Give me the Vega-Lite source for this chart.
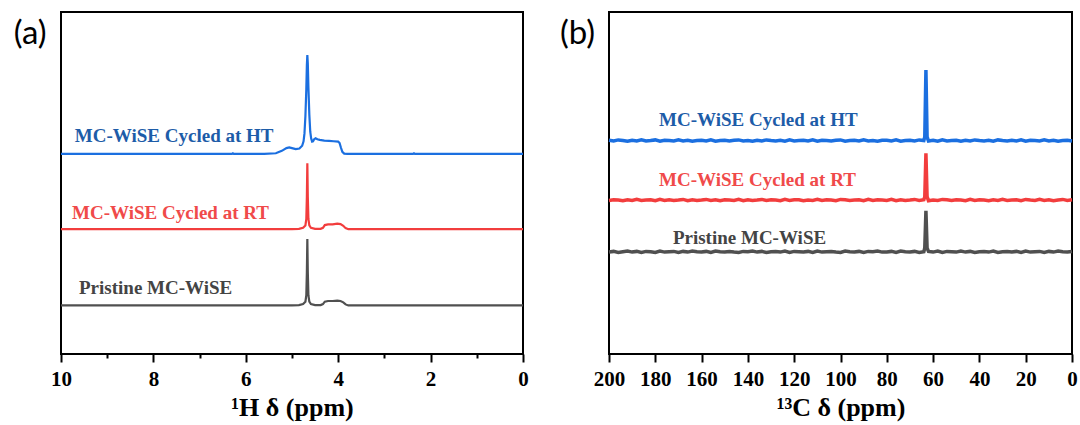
{
  "$schema": "https://vega.github.io/schema/vega-lite/v6.json",
  "background": "white",
  "padding": {"left": 12, "top": 11, "right": 4, "bottom": 4},
  "config": {
    "view": {"stroke": "black", "strokeWidth": 2},
    "axis": {"grid": false},
    "title": {"font": "Lato", "fontSize": 33, "fontWeight": "normal", "color": "black"}
  },
  "datasets": {
    "h1": [
      {"s": "HT", "ppm": 10, "v": 58.5}, {"s": "HT", "ppm": 8, "v": 58.5}, {"s": "HT", "ppm": 6.3, "v": 58.5},
      {"s": "HT", "ppm": 6.28, "v": 58.7}, {"s": "HT", "ppm": 6.26, "v": 58.5}, {"s": "HT", "ppm": 5.6, "v": 58.5},
      {"s": "HT", "ppm": 5.35, "v": 58.7}, {"s": "HT", "ppm": 5.22, "v": 59.4}, {"s": "HT", "ppm": 5.12, "v": 60.2},
      {"s": "HT", "ppm": 5.06, "v": 60.4}, {"s": "HT", "ppm": 5.0, "v": 60.2}, {"s": "HT", "ppm": 4.92, "v": 59.9},
      {"s": "HT", "ppm": 4.84, "v": 60.1}, {"s": "HT", "ppm": 4.78, "v": 60.9}, {"s": "HT", "ppm": 4.75, "v": 62.2},
      {"s": "HT", "ppm": 4.73, "v": 64.5}, {"s": "HT", "ppm": 4.71, "v": 69.5}, {"s": "HT", "ppm": 4.69, "v": 77.5},
      {"s": "HT", "ppm": 4.678, "v": 84.5}, {"s": "HT", "ppm": 4.668, "v": 87.4}, {"s": "HT", "ppm": 4.658, "v": 85.0},
      {"s": "HT", "ppm": 4.645, "v": 78.0}, {"s": "HT", "ppm": 4.625, "v": 70.0}, {"s": "HT", "ppm": 4.605, "v": 65.0},
      {"s": "HT", "ppm": 4.585, "v": 63.0}, {"s": "HT", "ppm": 4.565, "v": 62.1}, {"s": "HT", "ppm": 4.545, "v": 62.2},
      {"s": "HT", "ppm": 4.52, "v": 62.8}, {"s": "HT", "ppm": 4.49, "v": 63.1}, {"s": "HT", "ppm": 4.45, "v": 62.8},
      {"s": "HT", "ppm": 4.4, "v": 62.6}, {"s": "HT", "ppm": 4.3, "v": 62.4}, {"s": "HT", "ppm": 4.2, "v": 62.3},
      {"s": "HT", "ppm": 4.1, "v": 62.2}, {"s": "HT", "ppm": 4.0, "v": 62.1}, {"s": "HT", "ppm": 3.97, "v": 61.7},
      {"s": "HT", "ppm": 3.94, "v": 60.3}, {"s": "HT", "ppm": 3.91, "v": 59.1}, {"s": "HT", "ppm": 3.87, "v": 58.6},
      {"s": "HT", "ppm": 3.8, "v": 58.5}, {"s": "HT", "ppm": 2.38, "v": 58.5}, {"s": "HT", "ppm": 2.36, "v": 58.7},
      {"s": "HT", "ppm": 2.34, "v": 58.5}, {"s": "HT", "ppm": 0, "v": 58.5},

      {"s": "RT", "ppm": 10, "v": 36.5}, {"s": "RT", "ppm": 5.0, "v": 36.5}, {"s": "RT", "ppm": 4.85, "v": 36.6},
      {"s": "RT", "ppm": 4.76, "v": 36.9}, {"s": "RT", "ppm": 4.71, "v": 37.6}, {"s": "RT", "ppm": 4.69, "v": 39.5},
      {"s": "RT", "ppm": 4.678, "v": 46.0}, {"s": "RT", "ppm": 4.668, "v": 55.8}, {"s": "RT", "ppm": 4.658, "v": 46.0},
      {"s": "RT", "ppm": 4.645, "v": 39.5}, {"s": "RT", "ppm": 4.625, "v": 37.6}, {"s": "RT", "ppm": 4.59, "v": 36.9},
      {"s": "RT", "ppm": 4.5, "v": 36.6}, {"s": "RT", "ppm": 4.38, "v": 36.6}, {"s": "RT", "ppm": 4.33, "v": 36.9},
      {"s": "RT", "ppm": 4.29, "v": 37.7}, {"s": "RT", "ppm": 4.22, "v": 37.9}, {"s": "RT", "ppm": 4.12, "v": 37.9},
      {"s": "RT", "ppm": 4.02, "v": 38.1}, {"s": "RT", "ppm": 3.95, "v": 38.0}, {"s": "RT", "ppm": 3.89, "v": 37.5},
      {"s": "RT", "ppm": 3.84, "v": 36.8}, {"s": "RT", "ppm": 3.78, "v": 36.5}, {"s": "RT", "ppm": 0, "v": 36.5},

      {"s": "Pristine", "ppm": 10, "v": 14.2}, {"s": "Pristine", "ppm": 5.8, "v": 14.2}, {"s": "Pristine", "ppm": 5.0, "v": 14.2},
      {"s": "Pristine", "ppm": 4.85, "v": 14.3}, {"s": "Pristine", "ppm": 4.76, "v": 14.6}, {"s": "Pristine", "ppm": 4.71, "v": 15.3},
      {"s": "Pristine", "ppm": 4.69, "v": 17.2}, {"s": "Pristine", "ppm": 4.678, "v": 24.0}, {"s": "Pristine", "ppm": 4.668, "v": 33.6},
      {"s": "Pristine", "ppm": 4.658, "v": 24.0}, {"s": "Pristine", "ppm": 4.645, "v": 17.2}, {"s": "Pristine", "ppm": 4.625, "v": 15.3},
      {"s": "Pristine", "ppm": 4.59, "v": 14.6}, {"s": "Pristine", "ppm": 4.5, "v": 14.3}, {"s": "Pristine", "ppm": 4.38, "v": 14.3},
      {"s": "Pristine", "ppm": 4.33, "v": 14.6}, {"s": "Pristine", "ppm": 4.29, "v": 15.3}, {"s": "Pristine", "ppm": 4.22, "v": 15.5},
      {"s": "Pristine", "ppm": 4.12, "v": 15.5}, {"s": "Pristine", "ppm": 4.02, "v": 15.6}, {"s": "Pristine", "ppm": 3.95, "v": 15.5},
      {"s": "Pristine", "ppm": 3.89, "v": 15.1}, {"s": "Pristine", "ppm": 3.84, "v": 14.5}, {"s": "Pristine", "ppm": 3.78, "v": 14.2},
      {"s": "Pristine", "ppm": 0, "v": 14.2}
    ],
    "c13": [
      {"s":"HT","ppm":200,"v":62.5},{"s":"HT","ppm":198,"v":62.3},{"s":"HT","ppm":196,"v":62.6},{"s":"HT","ppm":194,"v":62.4},
      {"s":"HT","ppm":192,"v":62.2},{"s":"HT","ppm":190,"v":62.5},{"s":"HT","ppm":188,"v":62.3},{"s":"HT","ppm":186,"v":62.6},
      {"s":"HT","ppm":184,"v":62.3},{"s":"HT","ppm":182,"v":62.4},{"s":"HT","ppm":180,"v":62.6},{"s":"HT","ppm":178,"v":62.2},
      {"s":"HT","ppm":176,"v":62.5},{"s":"HT","ppm":174,"v":62.4},{"s":"HT","ppm":172,"v":62.3},{"s":"HT","ppm":170,"v":62.6},
      {"s":"HT","ppm":168,"v":62.3},{"s":"HT","ppm":166,"v":62.5},{"s":"HT","ppm":164,"v":62.2},{"s":"HT","ppm":162,"v":62.4},
      {"s":"HT","ppm":160,"v":62.5},{"s":"HT","ppm":158,"v":62.3},{"s":"HT","ppm":156,"v":62.6},{"s":"HT","ppm":154,"v":62.2},
      {"s":"HT","ppm":152,"v":62.4},{"s":"HT","ppm":150,"v":62.5},{"s":"HT","ppm":148,"v":62.3},{"s":"HT","ppm":146,"v":62.5},
      {"s":"HT","ppm":144,"v":62.6},{"s":"HT","ppm":142,"v":62.3},{"s":"HT","ppm":140,"v":62.4},{"s":"HT","ppm":138,"v":62.2},
      {"s":"HT","ppm":136,"v":62.5},{"s":"HT","ppm":134,"v":62.3},{"s":"HT","ppm":132,"v":62.6},{"s":"HT","ppm":130,"v":62.4},
      {"s":"HT","ppm":128,"v":62.3},{"s":"HT","ppm":126,"v":62.5},{"s":"HT","ppm":124,"v":62.2},{"s":"HT","ppm":122,"v":62.6},
      {"s":"HT","ppm":120,"v":62.3},{"s":"HT","ppm":118,"v":62.4},{"s":"HT","ppm":116,"v":62.5},{"s":"HT","ppm":114,"v":62.3},
      {"s":"HT","ppm":112,"v":62.6},{"s":"HT","ppm":110,"v":62.2},{"s":"HT","ppm":108,"v":62.5},{"s":"HT","ppm":106,"v":62.4},
      {"s":"HT","ppm":104,"v":62.3},{"s":"HT","ppm":102,"v":62.5},{"s":"HT","ppm":100,"v":62.6},{"s":"HT","ppm":98,"v":62.2},
      {"s":"HT","ppm":96,"v":62.4},{"s":"HT","ppm":94,"v":62.5},{"s":"HT","ppm":92,"v":62.3},{"s":"HT","ppm":90,"v":62.6},
      {"s":"HT","ppm":88,"v":62.3},{"s":"HT","ppm":86,"v":62.4},{"s":"HT","ppm":84,"v":62.2},{"s":"HT","ppm":82,"v":62.5},
      {"s":"HT","ppm":80,"v":62.5},{"s":"HT","ppm":78,"v":62.3},{"s":"HT","ppm":76,"v":62.6},{"s":"HT","ppm":74,"v":62.2},
      {"s":"HT","ppm":72,"v":62.4},{"s":"HT","ppm":70,"v":62.5},{"s":"HT","ppm":68,"v":62.3},{"s":"HT","ppm":66,"v":62.6},
      {"s":"HT","ppm":64,"v":62.4},{"s":"HT","ppm":63.6,"v":63.5},{"s":"HT","ppm":63.1,"v":83.0},{"s":"HT","ppm":62.6,"v":63.5},
      {"s":"HT","ppm":62,"v":62.3},{"s":"HT","ppm":60,"v":62.5},{"s":"HT","ppm":58,"v":62.2},{"s":"HT","ppm":56,"v":62.6},
      {"s":"HT","ppm":54,"v":62.3},{"s":"HT","ppm":52,"v":62.4},{"s":"HT","ppm":50,"v":62.5},{"s":"HT","ppm":48,"v":62.2},
      {"s":"HT","ppm":46,"v":62.5},{"s":"HT","ppm":44,"v":62.3},{"s":"HT","ppm":42,"v":62.6},{"s":"HT","ppm":40,"v":62.4},
      {"s":"HT","ppm":38,"v":62.3},{"s":"HT","ppm":36,"v":62.5},{"s":"HT","ppm":34,"v":62.2},{"s":"HT","ppm":32,"v":62.6},
      {"s":"HT","ppm":30,"v":62.4},{"s":"HT","ppm":28,"v":62.3},{"s":"HT","ppm":26,"v":62.5},{"s":"HT","ppm":24,"v":62.3},
      {"s":"HT","ppm":22,"v":62.6},{"s":"HT","ppm":20,"v":62.2},{"s":"HT","ppm":18,"v":62.5},{"s":"HT","ppm":16,"v":62.4},
      {"s":"HT","ppm":14,"v":62.3},{"s":"HT","ppm":12,"v":62.6},{"s":"HT","ppm":10,"v":62.3},{"s":"HT","ppm":8,"v":62.5},
      {"s":"HT","ppm":6,"v":62.2},{"s":"HT","ppm":4,"v":62.4},{"s":"HT","ppm":2,"v":62.5},{"s":"HT","ppm":0,"v":62.3},

      {"s":"RT","ppm":200,"v":44.9},{"s":"RT","ppm":198,"v":45.1},{"s":"RT","ppm":196,"v":45.0},{"s":"RT","ppm":194,"v":44.8},
      {"s":"RT","ppm":192,"v":45.1},{"s":"RT","ppm":190,"v":44.9},{"s":"RT","ppm":188,"v":45.2},{"s":"RT","ppm":186,"v":44.9},
      {"s":"RT","ppm":184,"v":45.0},{"s":"RT","ppm":182,"v":45.1},{"s":"RT","ppm":180,"v":44.8},{"s":"RT","ppm":178,"v":45.2},
      {"s":"RT","ppm":176,"v":44.9},{"s":"RT","ppm":174,"v":45.1},{"s":"RT","ppm":172,"v":44.9},{"s":"RT","ppm":170,"v":45.0},
      {"s":"RT","ppm":168,"v":45.2},{"s":"RT","ppm":166,"v":44.8},{"s":"RT","ppm":164,"v":45.1},{"s":"RT","ppm":162,"v":44.9},
      {"s":"RT","ppm":160,"v":45.0},{"s":"RT","ppm":158,"v":45.2},{"s":"RT","ppm":156,"v":44.9},{"s":"RT","ppm":154,"v":45.1},
      {"s":"RT","ppm":152,"v":44.8},{"s":"RT","ppm":150,"v":45.1},{"s":"RT","ppm":148,"v":45.0},{"s":"RT","ppm":146,"v":44.9},
      {"s":"RT","ppm":144,"v":45.2},{"s":"RT","ppm":142,"v":44.8},{"s":"RT","ppm":140,"v":45.1},{"s":"RT","ppm":138,"v":44.9},
      {"s":"RT","ppm":136,"v":45.0},{"s":"RT","ppm":134,"v":45.2},{"s":"RT","ppm":132,"v":44.9},{"s":"RT","ppm":130,"v":45.1},
      {"s":"RT","ppm":128,"v":45.0},{"s":"RT","ppm":126,"v":44.8},{"s":"RT","ppm":124,"v":45.2},{"s":"RT","ppm":122,"v":44.9},
      {"s":"RT","ppm":120,"v":45.1},{"s":"RT","ppm":118,"v":45.1},{"s":"RT","ppm":116,"v":44.8},{"s":"RT","ppm":114,"v":45.0},
      {"s":"RT","ppm":112,"v":44.9},{"s":"RT","ppm":110,"v":45.2},{"s":"RT","ppm":108,"v":44.9},{"s":"RT","ppm":106,"v":45.1},
      {"s":"RT","ppm":104,"v":45.0},{"s":"RT","ppm":102,"v":44.8},{"s":"RT","ppm":100,"v":45.2},{"s":"RT","ppm":98,"v":45.1},
      {"s":"RT","ppm":96,"v":44.9},{"s":"RT","ppm":94,"v":45.0},{"s":"RT","ppm":92,"v":45.1},{"s":"RT","ppm":90,"v":44.8},
      {"s":"RT","ppm":88,"v":45.2},{"s":"RT","ppm":86,"v":44.9},{"s":"RT","ppm":84,"v":45.1},{"s":"RT","ppm":82,"v":45.0},
      {"s":"RT","ppm":80,"v":44.9},{"s":"RT","ppm":78,"v":45.2},{"s":"RT","ppm":76,"v":44.8},{"s":"RT","ppm":74,"v":45.1},
      {"s":"RT","ppm":72,"v":44.9},{"s":"RT","ppm":70,"v":45.0},{"s":"RT","ppm":68,"v":45.2},{"s":"RT","ppm":66,"v":44.9},
      {"s":"RT","ppm":64,"v":45.1},{"s":"RT","ppm":63.6,"v":46.0},{"s":"RT","ppm":63.1,"v":58.7},{"s":"RT","ppm":62.6,"v":46.0},
      {"s":"RT","ppm":62,"v":44.8},{"s":"RT","ppm":60,"v":45.0},{"s":"RT","ppm":58,"v":44.9},{"s":"RT","ppm":56,"v":45.2},
      {"s":"RT","ppm":54,"v":45.1},{"s":"RT","ppm":52,"v":44.9},{"s":"RT","ppm":50,"v":45.1},{"s":"RT","ppm":48,"v":45.0},
      {"s":"RT","ppm":46,"v":44.8},{"s":"RT","ppm":44,"v":45.2},{"s":"RT","ppm":42,"v":44.9},{"s":"RT","ppm":40,"v":45.1},
      {"s":"RT","ppm":38,"v":45.0},{"s":"RT","ppm":36,"v":44.8},{"s":"RT","ppm":34,"v":45.1},{"s":"RT","ppm":32,"v":44.9},
      {"s":"RT","ppm":30,"v":45.2},{"s":"RT","ppm":28,"v":44.9},{"s":"RT","ppm":26,"v":45.0},{"s":"RT","ppm":24,"v":45.1},
      {"s":"RT","ppm":22,"v":44.8},{"s":"RT","ppm":20,"v":45.2},{"s":"RT","ppm":18,"v":45.0},{"s":"RT","ppm":16,"v":44.9},
      {"s":"RT","ppm":14,"v":45.2},{"s":"RT","ppm":12,"v":44.9},{"s":"RT","ppm":10,"v":45.1},{"s":"RT","ppm":8,"v":44.8},
      {"s":"RT","ppm":6,"v":45.0},{"s":"RT","ppm":4,"v":45.2},{"s":"RT","ppm":2,"v":44.9},{"s":"RT","ppm":0,"v":45.1},

      {"s":"Pristine","ppm":200,"v":29.8},{"s":"Pristine","ppm":198,"v":30.0},{"s":"Pristine","ppm":196,"v":29.7},{"s":"Pristine","ppm":194,"v":29.9},
      {"s":"Pristine","ppm":192,"v":30.1},{"s":"Pristine","ppm":190,"v":29.8},{"s":"Pristine","ppm":188,"v":30.0},{"s":"Pristine","ppm":186,"v":29.7},
      {"s":"Pristine","ppm":184,"v":30.0},{"s":"Pristine","ppm":182,"v":29.9},{"s":"Pristine","ppm":180,"v":29.7},{"s":"Pristine","ppm":178,"v":30.1},
      {"s":"Pristine","ppm":176,"v":29.8},{"s":"Pristine","ppm":174,"v":29.9},{"s":"Pristine","ppm":172,"v":30.0},{"s":"Pristine","ppm":170,"v":29.7},
      {"s":"Pristine","ppm":168,"v":30.0},{"s":"Pristine","ppm":166,"v":29.8},{"s":"Pristine","ppm":164,"v":30.1},{"s":"Pristine","ppm":162,"v":29.9},
      {"s":"Pristine","ppm":160,"v":29.8},{"s":"Pristine","ppm":158,"v":30.0},{"s":"Pristine","ppm":156,"v":29.7},{"s":"Pristine","ppm":154,"v":30.1},
      {"s":"Pristine","ppm":152,"v":29.9},{"s":"Pristine","ppm":150,"v":29.8},{"s":"Pristine","ppm":148,"v":30.0},{"s":"Pristine","ppm":146,"v":29.8},
      {"s":"Pristine","ppm":144,"v":29.7},{"s":"Pristine","ppm":142,"v":30.0},{"s":"Pristine","ppm":140,"v":29.9},{"s":"Pristine","ppm":138,"v":30.1},
      {"s":"Pristine","ppm":136,"v":29.8},{"s":"Pristine","ppm":134,"v":30.0},{"s":"Pristine","ppm":132,"v":29.7},{"s":"Pristine","ppm":130,"v":29.9},
      {"s":"Pristine","ppm":128,"v":30.0},{"s":"Pristine","ppm":126,"v":29.8},{"s":"Pristine","ppm":124,"v":30.1},{"s":"Pristine","ppm":122,"v":29.7},
      {"s":"Pristine","ppm":120,"v":30.0},{"s":"Pristine","ppm":118,"v":29.9},{"s":"Pristine","ppm":116,"v":29.8},{"s":"Pristine","ppm":114,"v":30.0},
      {"s":"Pristine","ppm":112,"v":29.7},{"s":"Pristine","ppm":110,"v":30.1},{"s":"Pristine","ppm":108,"v":29.8},{"s":"Pristine","ppm":106,"v":29.9},
      {"s":"Pristine","ppm":104,"v":30.0},{"s":"Pristine","ppm":102,"v":29.8},{"s":"Pristine","ppm":100,"v":29.7},{"s":"Pristine","ppm":98,"v":30.1},
      {"s":"Pristine","ppm":96,"v":29.9},{"s":"Pristine","ppm":94,"v":29.8},{"s":"Pristine","ppm":92,"v":30.0},{"s":"Pristine","ppm":90,"v":29.7},
      {"s":"Pristine","ppm":88,"v":30.0},{"s":"Pristine","ppm":86,"v":29.9},{"s":"Pristine","ppm":84,"v":30.1},{"s":"Pristine","ppm":82,"v":29.8},
      {"s":"Pristine","ppm":80,"v":29.8},{"s":"Pristine","ppm":78,"v":30.0},{"s":"Pristine","ppm":76,"v":29.7},{"s":"Pristine","ppm":74,"v":30.1},
      {"s":"Pristine","ppm":72,"v":29.9},{"s":"Pristine","ppm":70,"v":29.8},{"s":"Pristine","ppm":68,"v":30.0},{"s":"Pristine","ppm":66,"v":29.7},
      {"s":"Pristine","ppm":64,"v":29.9},{"s":"Pristine","ppm":63.6,"v":31.0},{"s":"Pristine","ppm":63.1,"v":41.9},{"s":"Pristine","ppm":62.6,"v":31.0},
      {"s":"Pristine","ppm":62,"v":30.0},{"s":"Pristine","ppm":60,"v":29.8},{"s":"Pristine","ppm":58,"v":30.1},{"s":"Pristine","ppm":56,"v":29.7},
      {"s":"Pristine","ppm":54,"v":30.0},{"s":"Pristine","ppm":52,"v":29.9},{"s":"Pristine","ppm":50,"v":29.8},{"s":"Pristine","ppm":48,"v":30.1},
      {"s":"Pristine","ppm":46,"v":29.8},{"s":"Pristine","ppm":44,"v":30.0},{"s":"Pristine","ppm":42,"v":29.7},{"s":"Pristine","ppm":40,"v":29.9},
      {"s":"Pristine","ppm":38,"v":30.0},{"s":"Pristine","ppm":36,"v":29.8},{"s":"Pristine","ppm":34,"v":30.1},{"s":"Pristine","ppm":32,"v":29.7},
      {"s":"Pristine","ppm":30,"v":29.9},{"s":"Pristine","ppm":28,"v":30.0},{"s":"Pristine","ppm":26,"v":29.8},{"s":"Pristine","ppm":24,"v":30.0},
      {"s":"Pristine","ppm":22,"v":29.7},{"s":"Pristine","ppm":20,"v":30.1},{"s":"Pristine","ppm":18,"v":29.8},{"s":"Pristine","ppm":16,"v":29.9},
      {"s":"Pristine","ppm":14,"v":30.0},{"s":"Pristine","ppm":12,"v":29.7},{"s":"Pristine","ppm":10,"v":30.0},{"s":"Pristine","ppm":8,"v":29.8},
      {"s":"Pristine","ppm":6,"v":30.1},{"s":"Pristine","ppm":4,"v":29.9},{"s":"Pristine","ppm":2,"v":29.8},{"s":"Pristine","ppm":0,"v":30.0}
    ],
    "h1labels": [
      {"s": "HT", "t": "MC-WiSE Cycled at HT", "ppm": 9.70, "v": 63.7},
      {"s": "RT", "t": "MC-WiSE Cycled at RT", "ppm": 9.76, "v": 41.2},
      {"s": "Pristine", "t": "Pristine MC-WiSE", "ppm": 9.61, "v": 19.3}
    ],
    "c13labels": [
      {"s": "HT", "t": "MC-WiSE Cycled at HT", "ppm": 178.4, "v": 68.4},
      {"s": "RT", "t": "MC-WiSE Cycled at RT", "ppm": 178.4, "v": 50.9},
      {"s": "Pristine", "t": "Pristine MC-WiSE", "ppm": 172.4, "v": 33.9}
    ]
  },
  "bounds": "flush",
  "spacing": 86,
  "hconcat": [
    {
      "width": 462,
      "height": 342,
      "title": {"text": "(a)", "orient": "left", "anchor": "end", "frame": "group", "angle": 0, "offset": 11, "baseline": "middle", "align": "right", "dx": 40, "dy": 22},
      "layer": [
        {
          "data": {"name": "h1"},
          "mark": {"type": "line", "strokeWidth": 2.2},
          "encoding": {
            "x": {
              "field": "ppm", "type": "quantitative",
              "scale": {"domain": [0, 10], "reverse": true, "nice": false},
              "axis": {
                "values": [0, 1, 2, 3, 4, 5, 6, 7, 8, 9, 10],
                "labelExpr": "datum.value % 2 === 0 ? datum.label : ''",
                "tickSize": {"condition": {"test": "datum.value % 2 === 0", "value": 8}, "value": 4},
                "tickWidth": 2, "tickColor": "black", "domain": false,
                "labelFont": "Liberation Serif", "labelFontSize": 21, "labelFontWeight": "bold", "labelColor": "black",
                "labelFlush": false, "labelOverlap": false, "labelPadding": 6,
                "title": "¹H δ (ppm)", "titleFont": "Liberation Serif", "titleFontSize": 26, "titleFontWeight": "bold",
                "titleColor": "black", "titlePadding": 5
              }
            },
            "y": {"field": "v", "type": "quantitative", "scale": {"domain": [0, 100], "nice": false, "zero": false}, "axis": null},
            "stroke": {
              "field": "s", "type": "nominal",
              "scale": {"domain": ["HT", "RT", "Pristine"], "range": ["#1b6fe0", "#f23d3d", "#505050"]},
              "legend": null
            }
          }
        },
        {
          "data": {"name": "h1labels"},
          "mark": {"type": "text", "align": "left", "baseline": "middle", "font": "Liberation Serif", "fontSize": 19, "fontWeight": "bold"},
          "encoding": {
            "x": {"field": "ppm", "type": "quantitative"},
            "y": {"field": "v", "type": "quantitative"},
            "text": {"field": "t"},
            "fill": {
              "field": "s", "type": "nominal",
              "scale": {"domain": ["HT", "RT", "Pristine"], "range": ["#1d5ca8", "#f04a4a", "#444444"]},
              "legend": null
            }
          }
        }
      ]
    },
    {
      "width": 463,
      "height": 342,
      "title": {"text": "(b)", "orient": "left", "anchor": "end", "frame": "group", "angle": 0, "offset": 10, "baseline": "middle", "align": "right", "dx": 47, "dy": 22},
      "layer": [
        {
          "data": {"name": "c13"},
          "mark": {"type": "line", "strokeWidth": 3.5},
          "encoding": {
            "x": {
              "field": "ppm", "type": "quantitative",
              "scale": {"domain": [0, 200], "reverse": true, "nice": false},
              "axis": {
                "values": [0, 10, 20, 30, 40, 50, 60, 70, 80, 90, 100, 110, 120, 130, 140, 150, 160, 170, 180, 190, 200],
                "labelExpr": "datum.value % 20 === 0 ? datum.label : ''",
                "tickSize": {"condition": {"test": "datum.value % 20 === 0", "value": 8}, "value": 4},
                "tickWidth": 2, "tickColor": "black", "domain": false,
                "labelFont": "Liberation Serif", "labelFontSize": 21, "labelFontWeight": "bold", "labelColor": "black",
                "labelFlush": false, "labelOverlap": false, "labelPadding": 6,
                "title": "¹³C δ (ppm)", "titleFont": "Liberation Serif", "titleFontSize": 26, "titleFontWeight": "bold",
                "titleColor": "black", "titlePadding": 5
              }
            },
            "y": {"field": "v", "type": "quantitative", "scale": {"domain": [0, 100], "nice": false, "zero": false}, "axis": null},
            "stroke": {
              "field": "s", "type": "nominal",
              "scale": {"domain": ["HT", "RT", "Pristine"], "range": ["#1b6fe0", "#f23d3d", "#505050"]},
              "legend": null
            }
          }
        },
        {
          "data": {"name": "c13labels"},
          "mark": {"type": "text", "align": "left", "baseline": "middle", "font": "Liberation Serif", "fontSize": 19, "fontWeight": "bold"},
          "encoding": {
            "x": {"field": "ppm", "type": "quantitative"},
            "y": {"field": "v", "type": "quantitative"},
            "text": {"field": "t"},
            "fill": {
              "field": "s", "type": "nominal",
              "scale": {"domain": ["HT", "RT", "Pristine"], "range": ["#1d5ca8", "#f04a4a", "#444444"]},
              "legend": null
            }
          }
        }
      ]
    }
  ]
}
